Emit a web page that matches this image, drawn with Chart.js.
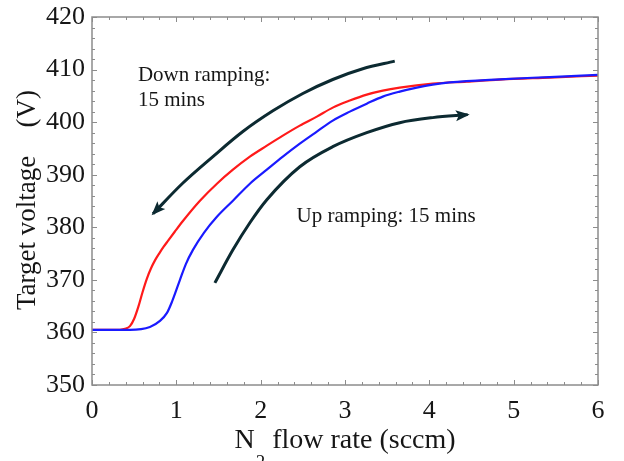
<!DOCTYPE html>
<html>
<head>
<meta charset="utf-8">
<script src="https://cdn.jsdelivr.net/npm/chart.js@4.4.0/dist/chart.umd.min.js"></script>
<style>
  html, body { margin: 0; padding: 0; background: #ffffff; }
  #wrap { width: 624px; height: 461px; position: relative; }
</style>
</head>
<body>
<div id="wrap"><canvas id="c" width="624" height="461"></canvas></div>
<script>
// ---------- data ----------
const downFlow = [0, 0.332, 0.391, 0.45, 0.5, 0.55, 0.6, 0.65, 0.7, 0.75, 0.8, 0.85, 0.9, 0.983, 1.078, 1.28, 1.481, 1.671, 1.872, 2.073, 2.263, 2.464, 2.666, 2.855, 3.057, 3.258, 3.448, 3.649, 4.04, 4.443, 4.834, 5.427, 6.0];
const downVolt = [360.48, 360.5, 360.67, 361.2, 362.6, 364.9, 367.7, 370.2, 372.2, 373.8, 375.1, 376.3, 377.4, 379.2, 381.2, 385.05, 388.29, 390.95, 393.43, 395.52, 397.43, 399.33, 401.05, 402.76, 404.1, 405.24, 406.0, 406.57, 407.33, 407.71, 408.1, 408.48, 408.85];

const upFlow = [0, 0.45, 0.687, 0.806, 0.889, 0.948, 1.043, 1.114, 1.197, 1.327, 1.481, 1.671, 1.872, 2.073, 2.263, 2.464, 2.666, 2.855, 3.057, 3.258, 3.448, 3.649, 3.851, 4.04, 4.242, 4.834, 5.427, 6.0];
const upVolt = [360.48, 360.5, 361.05, 362.19, 363.71, 365.81, 370.0, 373.05, 375.71, 378.95, 382.0, 385.05, 388.29, 390.95, 393.43, 395.9, 398.19, 400.29, 402.0, 403.52, 404.86, 405.81, 406.57, 407.14, 407.55, 408.15, 408.58, 409.0];

// annotation arrows (data coordinates), tip listed first
const downArrowFlow = [0.723, 1.078, 1.434, 1.789, 2.145, 2.5, 2.855, 3.211, 3.59];
const downArrowVolt = [382.57, 388.42, 393.45, 398.21, 402.15, 405.45, 408.11, 410.15, 411.6];
const upArrowFlow = [4.455, 4.04, 3.649, 3.258, 2.855, 2.464, 2.073, 1.872, 1.671, 1.457];
const upArrowVolt = [401.43, 400.86, 399.9, 398.0, 395.33, 391.52, 385.24, 380.86, 375.71, 369.43];

const xTicks = [0, 1, 2, 3, 4, 5, 6];
const yTicks = [350, 360, 370, 380, 390, 400, 410, 420];

const downLabel = ["Down ramping:", "15 mins"];
const upLabel = "Up ramping: 15 mins";
const xTitleMain = "N";
const xTitleSub = "2";
const xTitleRest = " flow rate (sccm)";
const yTitleMain = "Target voltage";
const yTitleUnit = "(V)";

// ---------- helpers ----------
const pts = (xs, ys) => xs.map((x, i) => ({ x: x, y: ys[i] }));
const SERIF = '"Liberation Serif", "Times New Roman", serif';
const FRAME = '#8c8c8c';
const ARROW = '#0c2a31';

const framePlugin = {
  id: 'frame',
  afterDatasetsDraw(chart) {
    const ctx = chart.ctx, a = chart.chartArea;
    const xs = chart.scales.x, ys = chart.scales.y;
    ctx.save();
    ctx.strokeStyle = FRAME;
    ctx.lineWidth = 1.5;
    ctx.strokeRect(a.left, a.top, a.right - a.left, a.bottom - a.top);
    ctx.lineWidth = 1;
    ctx.beginPath();
    for (let i = 0; i <= 30; i++) {
      const px = Math.round(xs.getPixelForValue(i * 0.2)) + 0.5;
      const len = (i % 5 === 0) ? 5 : 3;
      ctx.moveTo(px, a.bottom); ctx.lineTo(px, a.bottom - len);
      ctx.moveTo(px, a.top); ctx.lineTo(px, a.top + len);
    }
    for (let i = 0; i <= 35; i++) {
      const py = Math.round(ys.getPixelForValue(350 + i * 2)) + 0.5;
      const len = (i % 5 === 0) ? 5 : 3;
      ctx.moveTo(a.left, py); ctx.lineTo(a.left + len, py);
      ctx.moveTo(a.right, py); ctx.lineTo(a.right - len, py);
    }
    ctx.stroke();
    ctx.restore();
  }
};

const arrowPlugin = {
  id: 'arrowheads',
  afterDatasetsDraw(chart) {
    const ctx = chart.ctx;
    chart.data.datasets.forEach((ds, i) => {
      if (!ds.arrow) return;
      const meta = chart.getDatasetMeta(i);
      const p0 = meta.data[0], p1 = meta.data[1];
      const ang = Math.atan2(p0.y - p1.y, p0.x - p1.x);
      const L = 12, W = 5.5;
      ctx.save();
      ctx.translate(p0.x, p0.y);
      ctx.rotate(ang);
      ctx.fillStyle = ARROW;
      ctx.beginPath();
      ctx.moveTo(2, 0);
      ctx.lineTo(-L, -W);
      ctx.lineTo(-L + 3, 0);
      ctx.lineTo(-L, W);
      ctx.closePath();
      ctx.fill();
      ctx.restore();
    });
  }
};

const textPlugin = {
  id: 'texts',
  afterDraw(chart) {
    const ctx = chart.ctx, a = chart.chartArea;
    const xs = chart.scales.x, ys = chart.scales.y;
    ctx.save();
    ctx.fillStyle = '#161616';
    ctx.textBaseline = 'alphabetic';
    ctx.font = '21px ' + SERIF;
    ctx.textAlign = 'left';
    ctx.fillText(downLabel[0], xs.getPixelForValue(0.544), ys.getPixelForValue(407.8));
    ctx.fillText(downLabel[1], xs.getPixelForValue(0.544), ys.getPixelForValue(403.05));
    ctx.fillText(upLabel, xs.getPixelForValue(2.426), ys.getPixelForValue(381.1));

    const big = '28px ' + SERIF, small = '19px ' + SERIF;
    ctx.font = big; const wN = ctx.measureText(xTitleMain).width;
    const wR = ctx.measureText(xTitleRest).width;
    ctx.font = small; const wS = ctx.measureText(xTitleSub).width + 1;
    const total = wN + wS + wR;
    const x0 = (a.left + a.right) / 2 - total / 2;
    const base = 448;
    ctx.font = big; ctx.fillText(xTitleMain, x0, base);
    ctx.font = small; ctx.fillText(xTitleSub, x0 + wN + 1, base + 20);
    ctx.font = big; ctx.fillText(xTitleRest, x0 + wN + wS, base);

    ctx.translate(35, 0);
    ctx.rotate(-Math.PI / 2);
    ctx.font = '27px ' + SERIF;
    ctx.textAlign = 'left';
    ctx.fillText(yTitleMain, -310, 0);
    ctx.textAlign = 'right';
    ctx.fillText(yTitleUnit, -90, 0);
    ctx.restore();
  }
};

new Chart(document.getElementById('c'), {
  type: 'line',
  data: {
    datasets: [
      { label: 'Up ramping', data: pts(upFlow, upVolt), borderColor: '#1a1aff', borderWidth: 2.2, pointRadius: 0, cubicInterpolationMode: 'monotone', order: 1 },
      { label: 'Down ramping', data: pts(downFlow, downVolt), borderColor: '#ff1a1a', borderWidth: 2.2, pointRadius: 0, cubicInterpolationMode: 'monotone', order: 2 },
      { label: 'down arrow', arrow: true, data: pts(downArrowFlow, downArrowVolt), borderColor: ARROW, borderWidth: 3, pointRadius: 0, cubicInterpolationMode: 'monotone', order: 3 },
      { label: 'up arrow', arrow: true, data: pts(upArrowFlow, upArrowVolt), borderColor: ARROW, borderWidth: 3, pointRadius: 0, cubicInterpolationMode: 'monotone', order: 3 }
    ]
  },
  options: {
    responsive: false,
    animation: false,
    devicePixelRatio: 1,
    layout: { padding: { top: 17, right: 26, left: 0, bottom: 0 } },
    plugins: { legend: { display: false }, tooltip: { enabled: false } },
    scales: {
      x: {
        type: 'linear', min: 0, max: 6,
        afterBuildTicks: (s) => { s.ticks = xTicks.map(v => ({ value: v })); },
        afterFit: (s) => { s.height = 76; s.paddingLeft = 0; s.paddingRight = 0; },
        grid: { display: false, drawTicks: false },
        border: { display: false },
        ticks: { color: '#161616', padding: 11, font: { family: SERIF, size: 26 }, maxRotation: 0 }
      },
      y: {
        type: 'linear', min: 350, max: 420,
        afterBuildTicks: (s) => { s.ticks = yTicks.map(v => ({ value: v })); },
        afterFit: (s) => { s.width = 92; s.paddingTop = 0; s.paddingBottom = 0; },
        grid: { display: false, drawTicks: false },
        border: { display: false },
        ticks: { color: '#161616', padding: 7, font: { family: SERIF, size: 26 } }
      }
    }
  },
  plugins: [framePlugin, arrowPlugin, textPlugin]
});
</script>
</body>
</html>
